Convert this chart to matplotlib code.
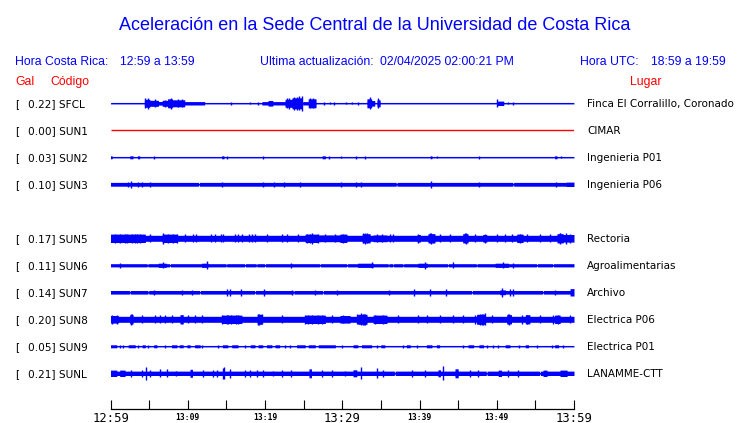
import numpy as np
import matplotlib
matplotlib.use("Agg")
import matplotlib.pyplot as plt

# ---------------- data ----------------
title = "Aceleración en la Sede Central de la Universidad de Costa Rica"
hora_cr = "12:59 a 13:59"
ultima = "02/04/2025 02:00:21 PM"
hora_utc = "18:59 a 19:59"

codes = ["SFCL", "SUN1", "SUN2", "SUN3", "SUN5", "SUN6", "SUN7", "SUN8", "SUN9", "SUNL"]
gal = [0.22, 0.00, 0.03, 0.10, 0.17, 0.11, 0.14, 0.20, 0.05, 0.21]
places = ["Finca El Corralillo, Coronado", "CIMAR", "Ingenieria P01", "Ingenieria P06",
          "Rectoria", "Agroalimentarias", "Archivo", "Electrica P06", "Electrica P01",
          "LANAMME-CTT"]

tick_minutes = list(range(0, 61, 5))
tick_labels = ["12:59", "", "13:09", "", "13:19", "", "13:29", "", "13:39", "", "13:49", "", "13:59"]
big_labels = ["12:59", "13:29", "13:59"]

# trace envelopes: time in minutes after 12:59, relative amplitude
sfcl_base = 0.6
sfcl_bursts = [(4.4, 5.1, 4.0), (5.1, 6.2, 3.0), (6.2, 6.7, 1.8), (6.7, 7.4, 3.0),
               (7.4, 8.0, 4.5), (8.0, 9.6, 3.5), (9.6, 12.2, 1.7), (19.6, 20.4, 1.7),
               (20.4, 21.0, 2.8), (21.0, 22.6, 1.7), (22.6, 23.5, 4.0), (23.5, 24.8, 5.5),
               (24.9, 25.6, 1.7), (25.6, 26.6, 4.5), (33.2, 33.8, 4.5), (33.8, 34.2, 2.8),
               (34.5, 34.9, 3.5), (50.0, 50.9, 2.2)]
sfcl_spikes = [(4.5, 5.0), (4.9, 5.5), (5.8, 4.0), (7.05, 3.5), (7.8, 5.5), (8.7, 4.0),
               (9.3, 4.0), (15.6, 1.5), (18.1, 1.0), (19.1, 1.5), (22.85, 5.0), (23.1, 5.5),
               (23.75, 6.5), (24.2, 6.5), (24.4, 7.0), (24.83, 7.5), (25.8, 5.0), (26.2, 5.0),
               (27.64, 1.5), (28.42, 1.0), (28.93, 1.5), (30.49, 1.0), (31.26, 1.0),
               (32.04, 1.5), (33.59, 6.0), (34.62, 5.0), (49.97, 4.0), (51.42, 1.0),
               (52.06, 1.5)]
sfcl_gaps = []

sun1_base = 0.0
sun1_bursts = []
sun1_spikes = []
sun1_gaps = []

sun2_base = 0.6
sun2_bursts = [(0.0, 0.2, 1.5), (2.5, 2.9, 1.5), (3.5, 3.8, 1.5), (14.4, 14.7, 1.5),
               (27.4, 27.8, 1.5), (41.4, 41.6, 1.5), (57.5, 57.8, 1.5)]
sun2_spikes = [(5.67, 1.5), (15.12, 1.5), (19.78, 1.5), (28.29, 1.5), (29.84, 1.0),
               (31.78, 1.5), (32.98, 1.5), (42.3, 1.2), (47.74, 1.5), (58.36, 1.0)]
sun2_gaps = []

sun3_base = 1.9
sun3_bursts = [(59.0, 60.0, 2.2)]
sun3_spikes = [(2.23, 2.7), (2.65, 3.7), (3.6, 2.7), (4.12, 2.3), (5.11, 2.7), (14.47, 2.7),
               (19.78, 2.7), (21.2, 2.3), (22.5, 2.7), (24.53, 2.3), (29.84, 2.7),
               (31.78, 2.7), (32.47, 2.3), (41.45, 3.7), (47.74, 2.3), (57.67, 2.7)]
sun3_gaps = [11.46, 37.05, 52.14]

sun5_base = 3.0
sun5_bursts = [(0.0, 4.5, 4.2), (6.7, 8.6, 4.2), (25.2, 26.9, 4.2), (26.9, 29.7, 3.4),
               (29.7, 30.6, 4.2), (32.6, 33.6, 4.6), (34.0, 35.8, 3.4), (39.7, 40.1, 3.8),
               (41.1, 42.0, 4.6), (45.6, 46.3, 4.6), (48.2, 48.7, 3.8), (52.6, 53.4, 4.2),
               (57.8, 58.6, 4.6), (58.6, 60.0, 3.8)]
sun5_spikes = [(0.58, 4.5), (1.23, 4.8), (1.88, 4.5), (2.14, 4.8), (2.74, 4.5), (3.17, 4.3),
               (3.39, 4.5), (3.82, 4.3), (5.11, 4.0), (6.84, 5.8), (7.48, 4.8), (8.13, 4.8),
               (8.57, 4.5), (9.64, 4.0), (10.68, 4.0), (11.03, 4.0), (13.0, 4.0), (13.53, 4.0),
               (14.3, 4.0), (14.6, 4.0), (16.12, 4.0), (16.47, 4.0), (16.98, 4.0), (17.93, 4.0),
               (18.28, 4.0), (18.71, 4.0), (20.26, 4.0), (22.16, 4.0), (22.81, 4.0),
               (24.31, 4.0), (25.4, 4.5), (25.83, 4.5), (26.08, 5.8), (26.9, 4.2),
               (27.77, 4.0), (29.06, 4.0), (30.14, 4.5), (32.73, 5.0), (32.95, 5.2),
               (33.17, 5.0), (34.46, 4.0), (35.11, 4.0), (36.18, 4.0), (36.61, 4.0),
               (39.85, 4.2), (41.36, 5.0), (41.49, 5.2), (41.79, 4.8), (42.65, 4.0),
               (43.95, 4.0), (45.89, 5.0), (46.02, 5.2), (47.18, 4.0), (48.48, 4.2),
               (49.99, 4.0), (51.07, 4.0), (51.94, 4.0), (53.01, 4.5), (53.88, 4.0),
               (55.6, 4.0), (56.89, 4.0), (58.14, 5.2), (58.19, 5.0), (58.92, 5.2),
               (59.48, 4.5)]
sun5_gaps = []

sun6_base = 1.6
sun6_bursts = [(6.2, 7.2, 2.1), (11.8, 12.6, 2.1), (32.0, 34.0, 2.1), (39.8, 41.0, 2.1),
               (49.8, 51.5, 2.1)]
sun6_spikes = [(1.23, 2.6), (6.83, 3.1), (12.45, 4.0), (23.37, 2.6), (33.81, 3.1),
               (40.71, 3.6), (44.38, 3.1), (50.77, 3.1), (52.14, 2.6)]
sun6_gaps = [4.8, 7.7, 15.0, 17.4, 18.9, 20.0, 27.1, 30.6, 36.0, 36.6, 37.9, 43.7, 47.4,
             55.2, 57.3]

sun7_base = 1.8
sun7_bursts = [(50.4, 51.1, 2.4), (59.5, 60.0, 3.7)]
sun7_spikes = [(5.63, 2.3), (9.26, 2.7), (10.51, 2.3), (15.08, 3.2), (15.47, 3.2),
               (16.89, 3.2), (19.87, 3.2), (23.46, 2.3), (26.47, 2.3), (29.28, 2.7),
               (36.09, 2.3), (39.29, 3.2), (41.36, 3.2), (43.43, 3.2), (50.72, 4.7),
               (51.72, 3.2), (52.14, 3.2), (57.54, 2.3)]
sun7_gaps = [2.5, 4.9, 11.6, 18.7, 23.7, 27.5, 46.8, 56.0]

sun8_base = 3.0
sun8_bursts = [(0.0, 1.0, 3.8), (2.5, 2.9, 4.6), (9.0, 9.4, 4.6), (14.4, 17.0, 4.2),
               (19.0, 19.6, 5.0), (25.2, 27.8, 4.2), (29.7, 31.0, 3.8), (32.0, 33.2, 5.0),
               (34.0, 35.8, 4.2), (47.4, 48.5, 5.0), (51.3, 51.9, 4.6), (53.7, 54.3, 4.6),
               (57.5, 58.2, 4.2)]
sun8_spikes = [(0.15, 4.3), (0.8, 4.3), (2.65, 5.3), (2.74, 5.0), (4.03, 4.0), (5.76, 4.0),
               (6.41, 4.0), (7.06, 4.0), (7.92, 4.0), (9.21, 4.8), (10.08, 4.0),
               (10.94, 4.0), (11.8, 4.0), (14.39, 4.5), (15.04, 4.5), (15.21, 4.8),
               (15.6, 4.5), (16.25, 4.8), (16.55, 4.5), (19.14, 5.5), (19.22, 5.8),
               (19.57, 5.0), (22.16, 4.0), (25.18, 4.3), (25.61, 4.3), (26.08, 4.8),
               (26.86, 4.8), (27.34, 4.3), (28.63, 4.0), (30.14, 4.0), (31.87, 5.0),
               (32.43, 6.0), (32.64, 5.8), (32.82, 5.8), (32.95, 5.5), (34.24, 4.5),
               (35.32, 4.5), (37.26, 4.0), (39.85, 4.0), (40.93, 4.0), (42.65, 4.0),
               (44.38, 4.0), (45.67, 4.0), (47.18, 4.3), (47.83, 5.5), (48.03, 5.8),
               (48.26, 5.5), (48.42, 6.0), (49.34, 4.0), (51.5, 5.0), (51.59, 5.2),
               (53.23, 4.3), (53.87, 4.8), (55.6, 4.0), (57.32, 4.3), (57.97, 4.3),
               (59.48, 4.0)]
sun8_gaps = []

sun9_base = 0.6
sun9_bursts = [(0.0, 0.8, 1.5), (2.3, 3.2, 1.5), (4.1, 4.5, 1.5), (5.6, 6.0, 1.5),
               (7.9, 8.6, 1.5), (8.9, 9.4, 1.5), (9.9, 10.3, 1.5), (10.9, 11.6, 1.5),
               (14.5, 15.2, 1.5), (15.7, 16.5, 1.5), (18.1, 18.7, 1.5), (19.1, 19.7, 1.5),
               (20.2, 20.9, 1.5), (21.3, 21.9, 1.5), (24.1, 25.2, 1.5), (25.6, 26.5, 1.5),
               (26.9, 29.1, 1.5), (31.4, 32.0, 1.5), (32.5, 33.8, 1.5), (35.0, 35.5, 1.5),
               (38.3, 38.8, 1.5), (40.9, 41.6, 1.5), (42.2, 42.6, 1.5), (46.3, 47.0, 1.5),
               (47.7, 48.3, 1.5), (51.1, 51.7, 1.5), (53.7, 54.1, 1.5), (57.5, 58.0, 1.5)]
sun9_spikes = [(1.23, 1.3), (1.66, 1.3), (3.6, 1.3), (4.89, 1.3), (7.05, 1.3), (11.88, 1.3),
               (13.95, 1.3), (17.41, 1.3), (22.59, 1.3), (23.24, 1.3), (29.93, 1.3),
               (34.46, 1.3), (37.83, 1.3), (39.72, 1.3), (45.67, 1.3), (48.7, 1.3),
               (49.55, 1.3), (50.2, 1.3), (52.92, 1.3), (55.17, 1.3), (57.11, 1.3),
               (58.54, 1.3)]
sun9_gaps = []

sunl_base = 2.2
sunl_bursts = [(0.0, 0.8, 3.2), (1.2, 1.9, 3.2), (10.3, 10.6, 4.0), (25.7, 26.0, 4.5),
               (31.4, 31.9, 3.5), (42.4, 42.7, 3.5), (44.6, 45.0, 4.5), (50.2, 50.6, 3.2),
               (56.0, 56.5, 3.2), (58.2, 59.1, 3.2)]
sunl_spikes = [(2.65, 3.5), (4.14, 3.5), (4.56, 6.5), (5.11, 3.2), (6.41, 4.0), (7.27, 4.0),
               (8.44, 2.8), (12.01, 3.2), (13.31, 3.2), (13.75, 3.2), (14.6, 5.5),
               (14.73, 6.0), (15.47, 4.5), (17.41, 3.2), (18.06, 3.2), (18.93, 3.2),
               (19.78, 3.2), (21.07, 2.8), (22.16, 3.2), (23.33, 3.2), (27.34, 3.2),
               (28.63, 3.5), (30.36, 2.8), (32.39, 6.0), (34.46, 5.0), (35.31, 3.2),
               (38.99, 3.2), (40.71, 3.2), (43.08, 7.0), (46.54, 3.2), (47.61, 3.2),
               (51.5, 3.2), (52.79, 3.2)]
sunl_gaps = [36.8, 48.7, 55.6]

bases = [sfcl_base, sun1_base, sun2_base, sun3_base, sun5_base, sun6_base, sun7_base,
         sun8_base, sun9_base, sunl_base]
bursts = [sfcl_bursts, sun1_bursts, sun2_bursts, sun3_bursts, sun5_bursts, sun6_bursts,
          sun7_bursts, sun8_bursts, sun9_bursts, sunl_bursts]
spikes = [sfcl_spikes, sun1_spikes, sun2_spikes, sun3_spikes, sun5_spikes, sun6_spikes,
          sun7_spikes, sun8_spikes, sun9_spikes, sunl_spikes]
gaps = [sfcl_gaps, sun1_gaps, sun2_gaps, sun3_gaps, sun5_gaps, sun6_gaps, sun7_gaps,
        sun8_gaps, sun9_gaps, sunl_gaps]

# ---------------- layout ----------------
W, H, DPI = 740, 423, 100
BLUE = "#0000ff"
RED = "#ff0000"
row_slots = [0, 1, 2, 3, 5, 6, 7, 8, 9, 10]
ROW0, ROWSTEP = 103.3, 27.0
X0, X1 = 110.5, 574.0
Y_TOP, Y_AXIS = 88.0, 409.0

fig = plt.figure(figsize=(W / DPI, H / DPI), dpi=DPI)
fig.patch.set_facecolor("white")


def fx(x):
    return x / W


def fy(y):
    return 1 - y / H


ax = fig.add_axes([fx(X0), fy(Y_AXIS), (X1 - X0) / W, (Y_AXIS - Y_TOP) / H])
ax.set_xlim(0, 60)
ax.set_ylim(Y_AXIS, Y_TOP)
ax.set_facecolor("none")
for s in ["top", "left", "right"]:
    ax.spines[s].set_visible(False)
ax.spines["bottom"].set_linewidth(0.9)
ax.set_yticks([])
ax.set_xticks(tick_minutes)
ax.set_xticklabels([])
ax.tick_params(axis="x", direction="in", length=6.6, width=0.8, color="black")

for m, lab in zip(tick_minutes, tick_labels):
    if not lab:
        continue
    if lab in big_labels:
        ax.text(m, Y_AXIS + 2.5, lab, ha="center", va="top", fontsize=8.8,
                family="DejaVu Sans Mono", color="black")
    else:
        ax.text(m, Y_AXIS + 3.5, lab, ha="center", va="top", fontsize=5.8,
                family="DejaVu Sans Mono", weight="bold", color="black")

t = np.linspace(0, 60, 3001)
for i, code in enumerate(codes):
    ry = ROW0 + ROWSTEP * row_slots[i]
    if code == "SUN1":
        ax.plot([0, 60], [ry, ry], color=RED, lw=1.0, solid_capstyle="butt")
    else:
        env = np.full_like(t, bases[i])
        for a, b, amp in bursts[i]:
            msk = (t >= a) & (t <= b)
            env[msk] = np.maximum(env[msk], amp)
        for g in gaps[i]:
            msk = np.abs(t - g) <= 0.05
            env[msk] = 0.7
        ax.fill_between(t, ry - env, ry + env, color=BLUE, linewidth=0)
        ax.plot([0, 60], [ry, ry], color=BLUE, lw=0.8, solid_capstyle="butt")
        if spikes[i]:
            st = [s[0] for s in spikes[i]]
            sa = [s[1] for s in spikes[i]]
            ax.vlines(st, [ry - a for a in sa], [ry + a for a in sa], color=BLUE, lw=1.0)

    # labels
    fig.text(fx(15), fy(ry + 3.8), "[", fontsize=7.6, family="DejaVu Sans",
             color="black", va="baseline", ha="left")
    fig.text(fx(27.5), fy(ry + 3.8), f"{gal[i]:.2f}] {code}", fontsize=7.6,
             family="DejaVu Sans", color="black", va="baseline", ha="left")
    fig.text(fx(587.3), fy(ry + 3.8), places[i], fontsize=7.5, family="DejaVu Sans",
             color="black", va="baseline", ha="left")

# header
HF = "Liberation Sans"
fig.text(fx(375), fy(30), title, fontsize=13, family=HF, color=BLUE, ha="center",
         va="baseline")
fig.text(fx(15), fy(65), "Hora Costa Rica:", fontsize=8.8, family=HF, color=BLUE,
         va="baseline")
fig.text(fx(120), fy(65), hora_cr, fontsize=8.8, family=HF, color=BLUE, va="baseline")
fig.text(fx(260), fy(65), "Ultima actualización:", fontsize=8.8, family=HF, color=BLUE,
         va="baseline")
fig.text(fx(380), fy(65), ultima, fontsize=8.8, family=HF, color=BLUE, va="baseline")
fig.text(fx(580), fy(65), "Hora UTC:", fontsize=8.8, family=HF, color=BLUE, va="baseline")
fig.text(fx(650.7), fy(65), hora_utc, fontsize=8.8, family=HF, color=BLUE, va="baseline")
fig.text(fx(15), fy(85), "Gal", fontsize=8.8, family=HF, color=RED, va="baseline")
fig.text(fx(50), fy(85), "Código", fontsize=8.8, family=HF, color=RED, va="baseline")
fig.text(fx(630), fy(85), "Lugar", fontsize=8.8, family=HF, color=RED, va="baseline")

fig.savefig("out.png", dpi=DPI, facecolor="white")
